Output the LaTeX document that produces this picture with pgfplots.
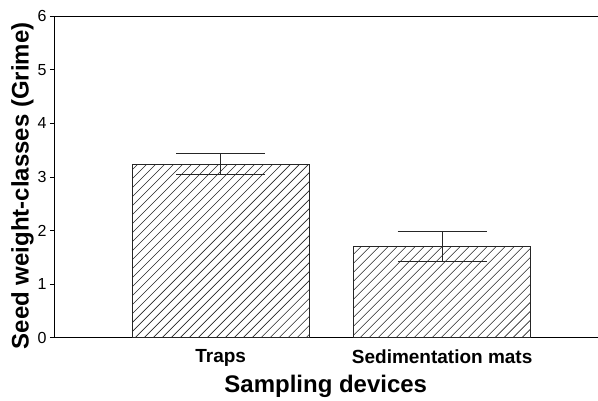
\documentclass[border=0pt]{standalone}
\usepackage{fontspec}
\setmainfont{Liberation Sans}
\usepackage{pgfplots}
\pgfplotsset{compat=1.18}
\usetikzlibrary{patterns}
\pgfdeclarepatternformonly{bighatch}{\pgfqpoint{0pt}{0pt}}{\pgfqpoint{630pt}{630pt}}{\pgfqpoint{630pt}{630pt}}{
  \pgfsetlinewidth{0.6pt}
  \foreach \k in {-71,...,71} {
    \pgfpathmoveto{\pgfpoint{\k*9pt-2pt}{-2pt}}
    \pgfpathlineto{\pgfpoint{\k*9pt+632pt}{632pt}}
  }
  \pgfusepath{stroke}
}
\begin{document}
\begin{tikzpicture}
\begin{axis}[
  scale only axis,
  width=544pt, height=322pt,
  xmin=-0.753, xmax=1.702,
  ymin=0, ymax=6,
  ytick={0,1,2,3,4,5,6},
  xtick={0,1},
  xticklabels={Traps,Sedimentation mats},
  xtick style={draw=none},
  ytick style={black, line width=0.6pt},
  tick align=outside,
  major tick length=4pt,
  axis x line*=bottom,
  axis y line*=left,
  axis line style={black, line width=0.8pt, -},
  /pgf/number format/assume math mode=true,
  yticklabel style={font=\fontsize{16}{18}\selectfont, xshift=0pt},
  xticklabel style={font=\bfseries\fontsize{19}{21}\selectfont, yshift=-4pt},
  xlabel={Sampling devices},
  ylabel={Seed weight-classes (Grime)},
  xlabel style={font=\bfseries\fontsize{24}{26}\selectfont, yshift=-2pt},
  ylabel style={at={(ticklabel cs:0.472)}, font=\bfseries\fontsize{24}{26}\selectfont, yshift=-3pt},
  clip=false,
]
\addplot[ybar, bar width=0.8, draw=black!85, line width=0.6pt,
  pattern=bighatch, pattern color=black!85,
  error bars/.cd, y dir=both, y explicit,
  error bar style={black!85, line width=0.8pt},
  error mark options={rotate=90, mark size=44.5pt, black!85, line width=0.8pt}]
  coordinates {(0,3.24) +- (0,0.20) (1,1.70) +- (0,0.28)};
\draw[black, line width=0.8pt] (rel axis cs:0,1) -- (rel axis cs:1,1);
\coordinate (sw) at (rel axis cs:0,0);
\end{axis}
\path[use as bounding box] (sw) ++(-54pt,-63pt) rectangle ++(598pt,401pt);
\end{tikzpicture}
\end{document}
